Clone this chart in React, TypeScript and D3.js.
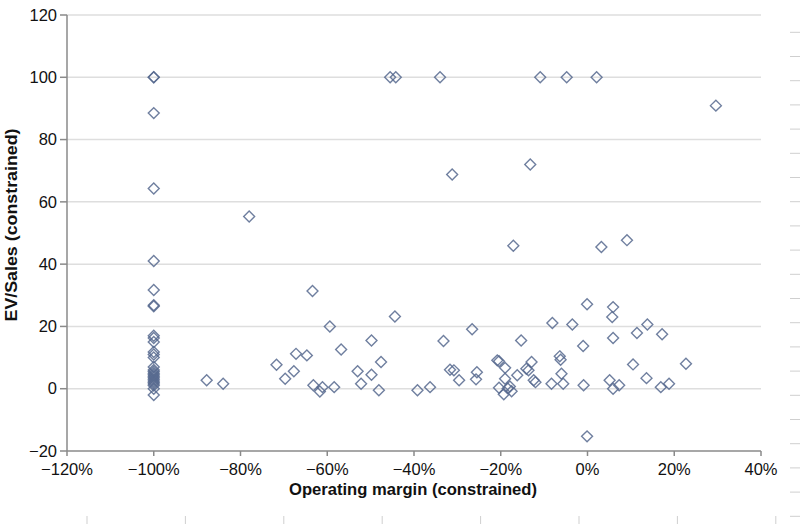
import React from 'react';
import * as d3 from 'd3';

// operating margin (%) and EV/Sales
const margins = [
  -100, -100, -100, -100, -100, -100, -100, -100, -100, -100, -100, -100, -100, -100,
  -100, -100, -100, -100, -100, -100, -100, -100, -100, -100, -100, -100, -100, -100,
  -87.8, -84.0, -78.0, -71.7, -69.7, -67.7, -67.2, -64.7, -63.4, -63.2, -61.7, -61.1,
  -59.4, -58.4, -56.8, -53.0, -52.2, -49.8, -49.8, -48.1, -47.6, -45.5, -44.2, -44.4,
  -39.2, -36.3, -34.0, -33.2, -31.7, -31.2, -30.8, -29.6, -26.6, -25.5, -25.7, -20.8,
  -20.4, -20.4, -19.3, -19.0, -19.0, -18.4, -17.9, -17.5, -17.1, -16.2, -15.3, -14.1,
  -13.6, -13.2, -12.9, -12.4, -12.0, -10.9, -8.3, -8.1, -6.4, -6.2, -6.0, -5.6,
  -4.8, -3.5, -1.0, -0.9, -0.1, -0.1, 2.1, 3.2, 5.1, 5.7, 5.9, 5.9,
  5.9, 7.3, 9.1, 10.5, 11.4, 13.6, 13.8, 16.9, 17.2, 18.8, 22.7, 29.6,
];
const evSales = [
  100, 100, 88.5, 64.3, 41, 31.7, 26.8, 26.5, 17, 16.3, 15, 11.8, 11, 10,
  7, 6, 5.5, 5, 4.5, 4, 3.5, 3, 2.5, 2, 1.5, 1, 0, -2,
  2.7, 1.6, 55.3, 7.7, 3.2, 5.6, 11.2, 10.7, 31.4, 1.1, -0.9, 0.5,
  20, 0.5, 12.6, 5.6, 1.6, 15.5, 4.5, -0.5, 8.6, 100, 100, 23.2,
  -0.5, 0.5, 100, 15.3, 6.1, 68.8, 5.9, 2.7, 19.1, 5.3, 3.0, 9.1,
  8.8, 0.3, -1.8, 6.7, 3.2, 0.1, 0.7, -0.8, 45.9, 4.3, 15.5, 6.4,
  5.9, 72.0, 8.6, 2.7, 2.1, 100, 1.6, 21.1, 10.4, 9.3, 4.8, 1.6,
  100, 20.6, 13.7, 1.1, 27.1, -15.3, 100, 45.5, 2.7, 23.0, 26.2, 16.3,
  0, 1.1, 47.7, 7.8, 17.9, 3.4, 20.6, 0.5, 17.5, 1.6, 8.0, 90.9,
];

const xTicks = [-120, -100, -80, -60, -40, -20, 0, 20, 40];
const yTicks = [-20, 0, 20, 40, 60, 80, 100, 120];

const W = 800;
const H = 524;
const font = '"Liberation Sans", Arial, Helvetica, sans-serif';

export default function App() {
  const x = d3.scaleLinear().domain([-120, 40]).range([67, 761]);
  const y = d3.scaleLinear().domain([-20, 120]).range([451, 15]);
  const pct = d3.format('.0%');
  const num = d3.format('d');
  const diamond = d3.symbol().type(d3.symbolDiamond2).size(76)();

  // faint scan marks along the right and bottom page edges
  const edgeRight = d3.range(32.3, 524, 24.2);
  const edgeBottom = d3.range(87, 800, 98.4);

  return (
    <svg
      width={W}
      height={H}
      style={{ position: 'absolute', left: 0, top: 0, background: '#fff' }}
      fontFamily={font}
    >
      {edgeRight.map((v, i) => (
        <line key={'r' + i} x1={790} x2={800} y1={v} y2={v} stroke="#cfcfcf" strokeWidth={1} />
      ))}
      {edgeBottom.map((v, i) => (
        <line key={'b' + i} x1={v} x2={v} y1={516} y2={524} stroke="#cfcfcf" strokeWidth={1} />
      ))}

      {yTicks.filter((t) => t > -20).map((t) => (
        <line key={'g' + t} x1={x(-120)} x2={x(40)} y1={y(t)} y2={y(t)} stroke="#dedede" strokeWidth={1.5} />
      ))}

      {/* axes */}
      <line x1={x(-120)} x2={x(-120)} y1={y(120)} y2={y(-20)} stroke="#8a8a8a" strokeWidth={1.5} />
      <line x1={x(-120)} x2={x(40)} y1={y(-20)} y2={y(-20)} stroke="#8a8a8a" strokeWidth={1.5} />
      {yTicks.map((t) => (
        <g key={'y' + t}>
          <line x1={x(-120) - 7} x2={x(-120)} y1={y(t)} y2={y(t)} stroke="#8a8a8a" strokeWidth={1.5} />
          <text x={57} y={y(t)} dy="0.35em" textAnchor="end" fontSize={16.5} fill="#111">
            {num(t)}
          </text>
        </g>
      ))}
      {xTicks.map((t) => (
        <g key={'x' + t}>
          <line x1={x(t)} x2={x(t)} y1={y(-20)} y2={y(-20) + 5} stroke="#8a8a8a" strokeWidth={1.5} />
          <text x={x(t)} y={475} textAnchor="middle" fontSize={16.5} fill="#111">
            {pct(t / 100)}
          </text>
        </g>
      ))}

      <text
        x={413}
        y={495}
        textAnchor="middle"
        fontSize={16.5}
        fontWeight="bold"
        fill="#111"
        textLength={248}
        lengthAdjust="spacingAndGlyphs"
      >
        Operating margin (constrained)
      </text>
      <text
        transform={`translate(17,225) rotate(-90)`}
        textAnchor="middle"
        fontSize={16.5}
        fontWeight="bold"
        fill="#111"
        textLength={193}
        lengthAdjust="spacingAndGlyphs"
      >
        EV/Sales (constrained)
      </text>

      {margins.map((m, i) => (
        <path
          key={i}
          d={diamond}
          transform={`translate(${x(m)},${y(evSales[i])})`}
          fill="none"
          stroke="#56688e"
          strokeOpacity={0.85}
          strokeWidth={1.4}
        />
      ))}
    </svg>
  );
}
